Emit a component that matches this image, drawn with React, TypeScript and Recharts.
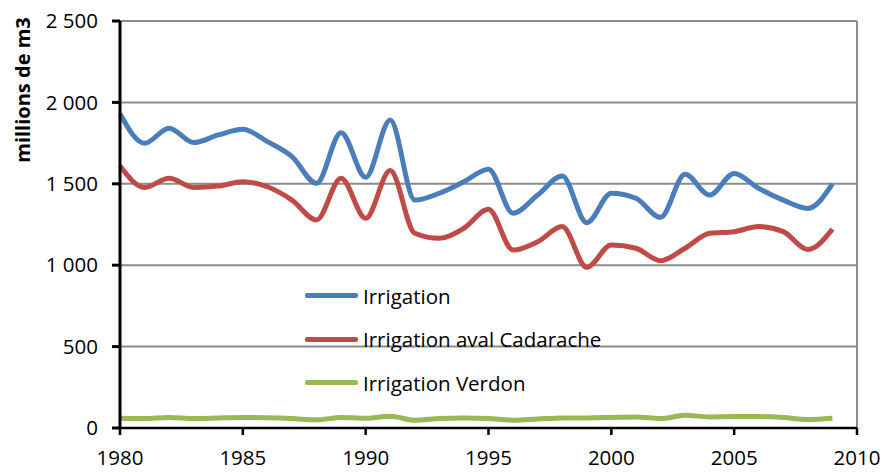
import {
  LineChart,
  Line,
  XAxis,
  YAxis,
  CartesianGrid,
  ReferenceLine,
} from "recharts";

const years = [
  1980, 1981, 1982, 1983, 1984, 1985, 1986, 1987, 1988, 1989, 1990, 1991,
  1992, 1993, 1994, 1995, 1996, 1997, 1998, 1999, 2000, 2001, 2002, 2003,
  2004, 2005, 2006, 2007, 2008, 2009,
];

const irrigation = [
  1930, 1749, 1841, 1753, 1800, 1835, 1759, 1667, 1503, 1814, 1540, 1892,
  1400, 1442, 1513, 1589, 1319, 1431, 1548, 1261, 1442, 1411, 1294, 1558,
  1431, 1564, 1472, 1400, 1349, 1499,
];

const avalCadarache = [
  1609, 1478, 1534, 1478, 1486, 1513, 1482, 1400, 1278, 1534, 1288, 1581,
  1196, 1165, 1227, 1343, 1093, 1144, 1237, 987, 1124, 1104, 1028, 1104,
  1196, 1206, 1237, 1206, 1097, 1222,
];

const verdon = [
  60, 58, 65, 58, 62, 65, 63, 58, 50, 65, 60, 72, 48, 58, 62, 58, 48, 55, 62,
  62, 65, 68, 58, 78, 68, 70, 70, 65, 52, 60,
];

const xTicks = [1980, 1985, 1990, 1995, 2000, 2005, 2010];
const yTicks = [0, 500, 1000, 1500, 2000, 2500];
const yTickLabels = ["0", "500", "1 000", "1 500", "2 000", "2 500"];

const seriesNames = ["Irrigation", "Irrigation aval Cadarache", "Irrigation Verdon"];
const COLORS = ["#4a7ebb", "#be4b48", "#98b954"];

const data = years.map((y, i) => ({
  year: y,
  irrigation: irrigation[i],
  aval: avalCadarache[i],
  verdon: verdon[i],
}));

const FONT = "'Open Sans', 'Liberation Sans', sans-serif";

// legend drawn inside the plot area, like the original
function ChartLegend() {
  return (
    <div
      style={{
        position: "absolute",
        left: 305,
        top: 274,
        fontFamily: FONT,
        fontSize: 20.5,
        color: "#000",
      }}
    >
      {seriesNames.map((name, i) => (
        <div
          key={name}
          style={{ display: "flex", alignItems: "center", height: 43.5 }}
        >
          <div
            style={{
              width: 53,
              height: 5,
              background: COLORS[i],
              marginRight: 5,
              borderRadius: 2,
            }}
          />
          <span>{name}</span>
        </div>
      ))}
    </div>
  );
}

function AxisTitle() {
  return (
    <text
      x={22}
      y={90}
      transform="rotate(-90 22 90)"
      textAnchor="middle"
      dominantBaseline="central"
      fontFamily={FONT}
      fontSize={20}
      fontWeight="bold"
      fill="#000"
    >
      millions de m3
    </text>
  );
}

export default function App() {
  return (
    <div style={{ position: "absolute", left: 0, top: 0, background: "#fff" }}>
      <LineChart
        width={887}
        height={472}
        data={data}
        margin={{ top: 21, right: 30, bottom: 0, left: 0 }}
      >
        <CartesianGrid
          horizontal
          vertical={false}
          stroke="#8c8c8c"
          strokeWidth={2}
        />
        <ReferenceLine x={2010} stroke="#8c8c8c" strokeWidth={2} />
        <XAxis
          dataKey="year"
          type="number"
          domain={[1980, 2010]}
          ticks={xTicks}
          height={44}
          stroke="#000"
          strokeWidth={2.5}
          tickSize={7}
          tickMargin={15}
          tick={{ fill: "#000", fontSize: 20.5, fontFamily: FONT }}
          interval={0}
        />
        <YAxis
          domain={[0, 2500]}
          ticks={yTicks}
          width={120}
          stroke="#000"
          strokeWidth={3}
          tickSize={8}
          tickMargin={14}
          tick={{ fill: "#000", fontSize: 20.5, fontFamily: FONT }}
          tickFormatter={(v) => yTickLabels[yTicks.indexOf(v)]}
          interval={0}
          label={{ content: () => <AxisTitle /> }}
        />
        <Line
          type="monotone"
          dataKey="irrigation"
          name={seriesNames[0]}
          stroke={COLORS[0]}
          strokeWidth={5}
          dot={false}
          isAnimationActive={false}
        />
        <Line
          type="monotone"
          dataKey="aval"
          name={seriesNames[1]}
          stroke={COLORS[1]}
          strokeWidth={5}
          dot={false}
          isAnimationActive={false}
        />
        <Line
          type="monotone"
          dataKey="verdon"
          name={seriesNames[2]}
          stroke={COLORS[2]}
          strokeWidth={5}
          dot={false}
          isAnimationActive={false}
        />
      </LineChart>
      <ChartLegend />
    </div>
  );
}
